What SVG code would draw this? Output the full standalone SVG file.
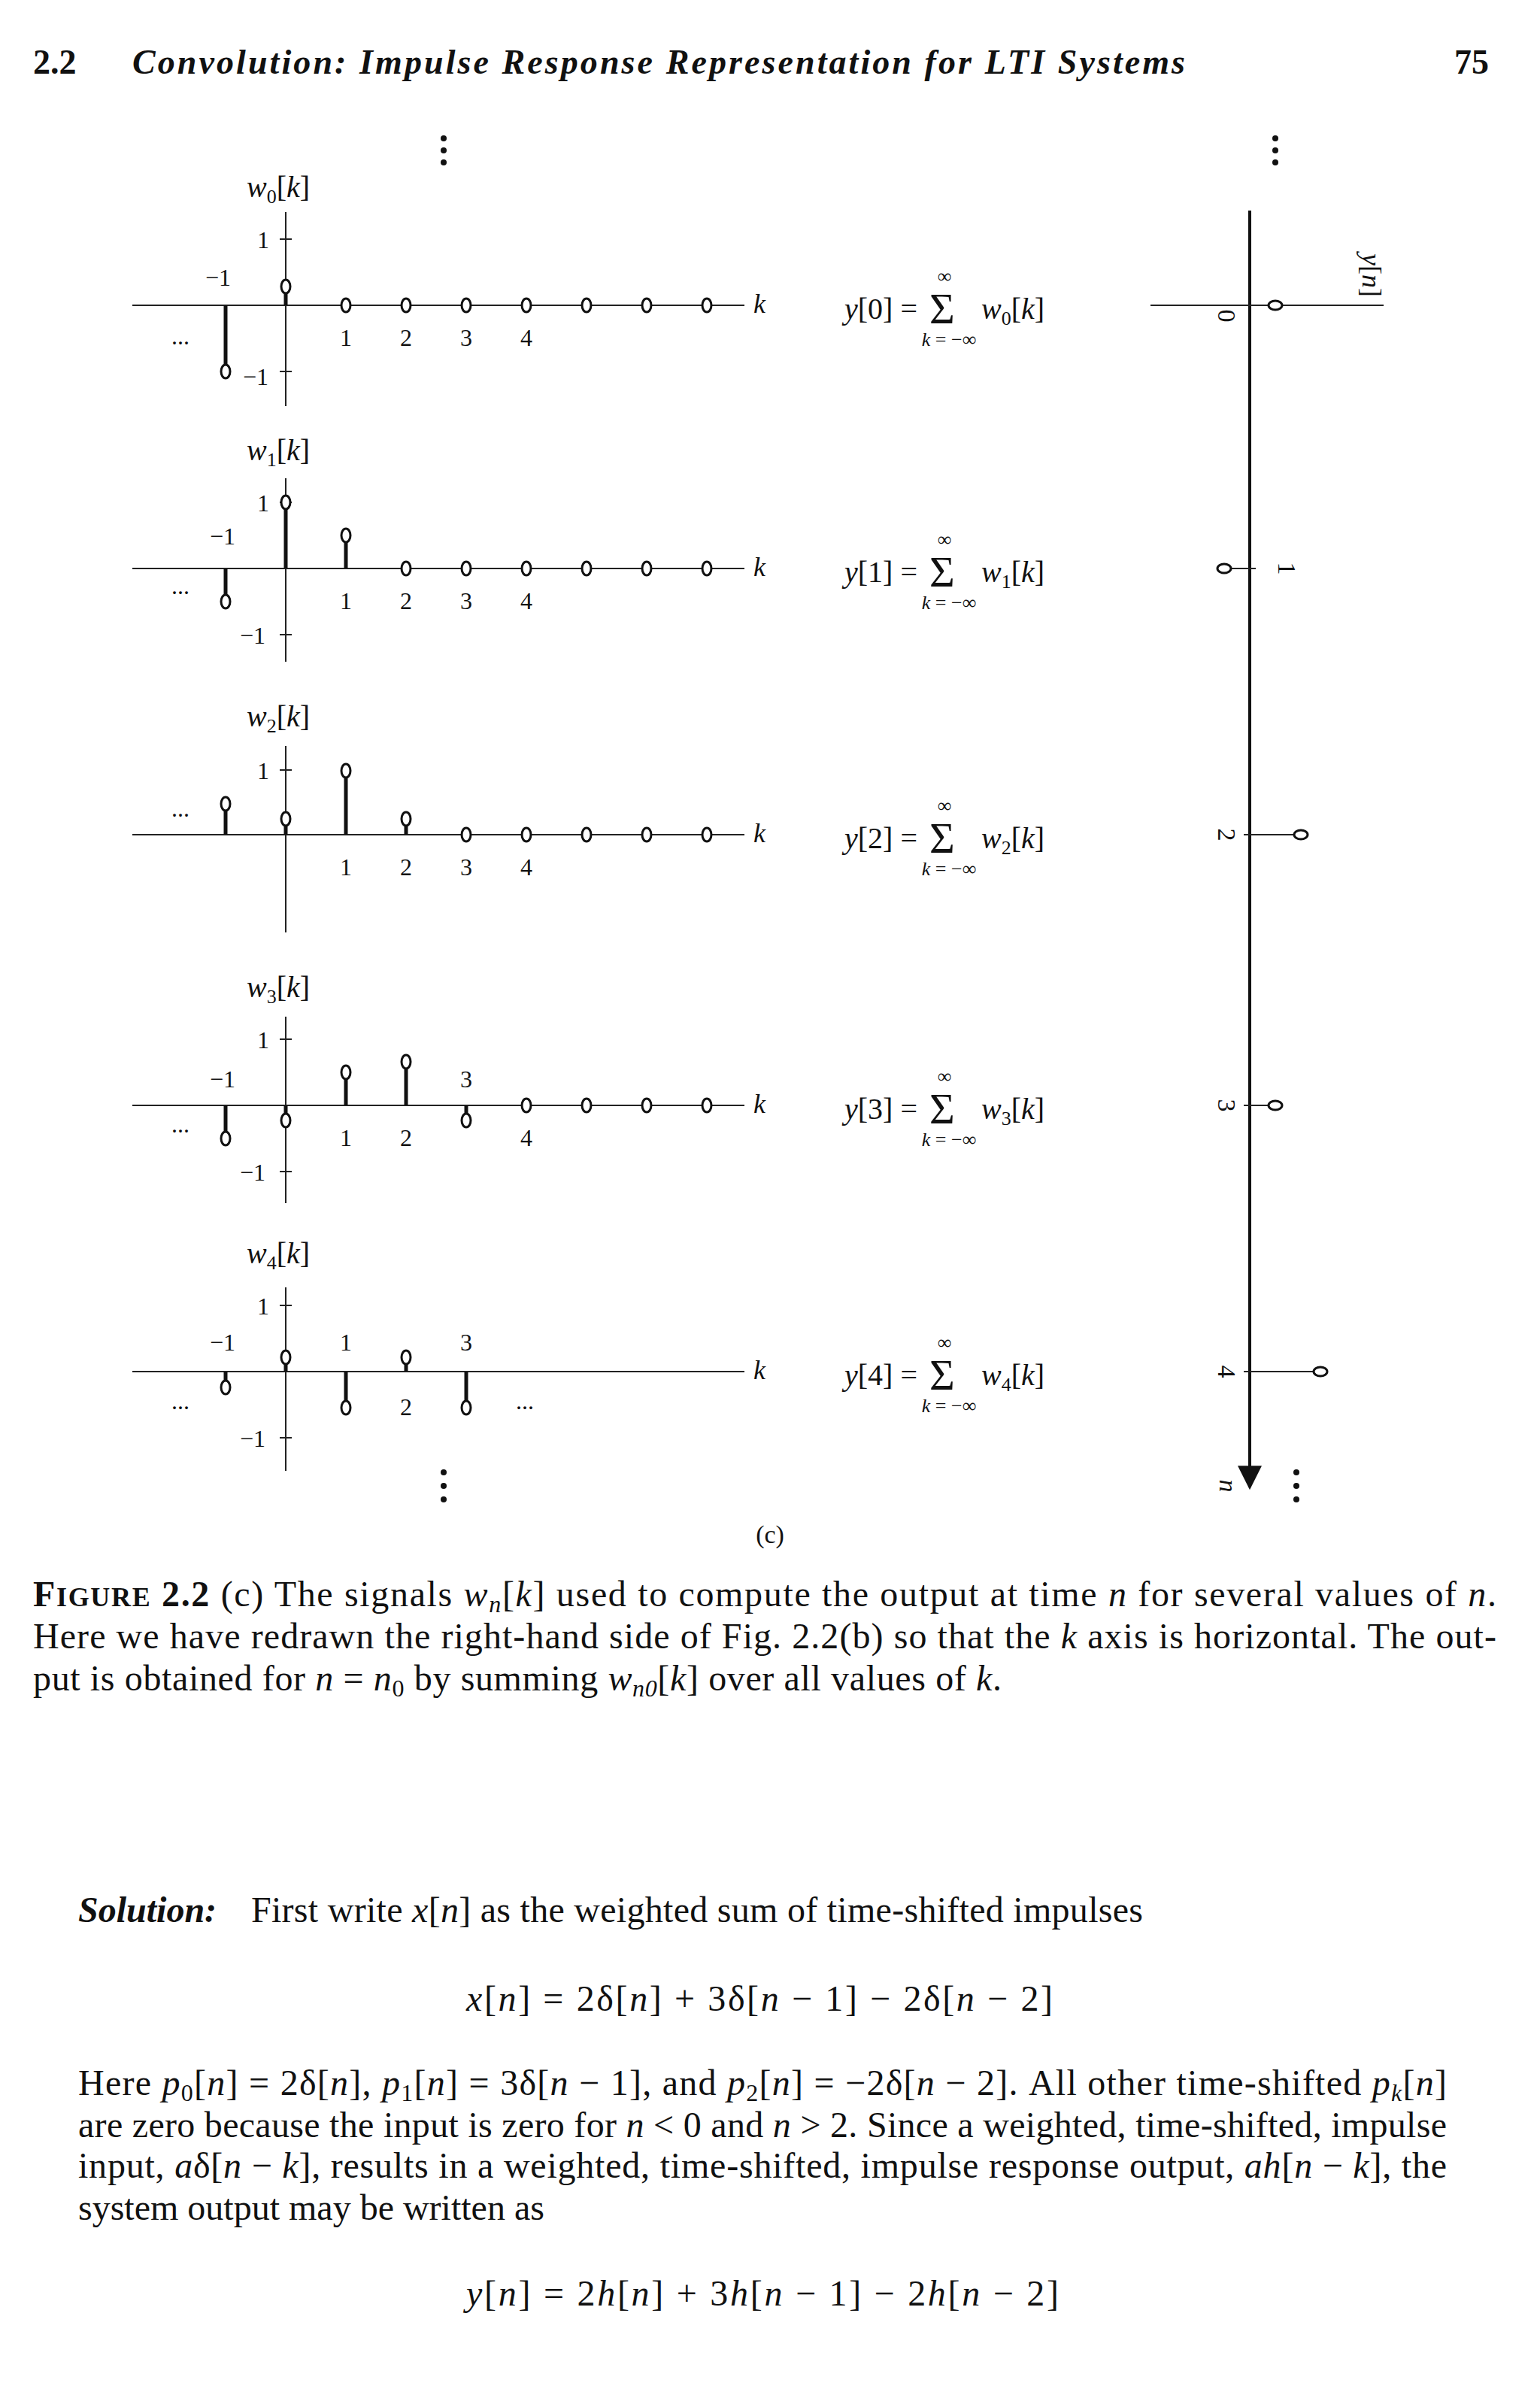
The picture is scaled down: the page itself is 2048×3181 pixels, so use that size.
<svg xmlns="http://www.w3.org/2000/svg" width="2048" height="3181" viewBox="0 0 2048 3181">
<defs>
<style>
text{font-family:"Liberation Serif","Times New Roman",serif;fill:#111}
.ax{stroke:#222;stroke-width:2;fill:none}
.st{stroke:#111;stroke-width:5;fill:none}
.c{fill:#fff;stroke:#111;stroke-width:3}
.tk{font-size:32px;text-anchor:middle}
.wl{font-size:40px}
.eq{font-size:40px}
.sg{font-size:58px}
.sm{font-size:26px;text-anchor:middle}
.i{font-style:italic}
.body{font-size:48px}
.d{fill:#111}
</style>
<marker id="arr" viewBox="0 0 10 10" refX="9" refY="5" markerWidth="8" markerHeight="8" orient="auto"><path d="M0,0 L10,5 L0,10 z" fill="#111"/></marker>
</defs>
<rect width="2048" height="3181" fill="#fff"/>

<g id="header">
<text x="44" y="98" font-size="46" font-weight="bold">2.2</text>
<text x="176" y="98" font-size="46" font-weight="bold" font-style="italic" textLength="1400" lengthAdjust="spacing">Convolution: Impulse Response Representation for LTI Systems</text>
<text x="1980" y="98" font-size="46" font-weight="bold" text-anchor="end">75</text>
</g>

<g id="dots">
<circle class="d" cx="590" cy="184" r="4"/><circle class="d" cx="590" cy="200" r="4"/><circle class="d" cx="590" cy="216" r="4"/>
<circle class="d" cx="1696" cy="184" r="4"/><circle class="d" cx="1696" cy="200" r="4"/><circle class="d" cx="1696" cy="216" r="4"/>
<circle class="d" cx="590" cy="1958" r="4"/><circle class="d" cx="590" cy="1976" r="4"/><circle class="d" cx="590" cy="1994" r="4"/>
<circle class="d" cx="1724" cy="1958" r="4"/><circle class="d" cx="1724" cy="1976" r="4"/><circle class="d" cx="1724" cy="1994" r="4"/>
</g>

<!-- w0 -->
<g id="w0">
<line class="ax" x1="176" y1="406" x2="990" y2="406"/>
<line class="ax" x1="380" y1="282" x2="380" y2="540"/>
<line class="ax" x1="372" y1="318" x2="388" y2="318"/><line class="ax" x1="372" y1="494" x2="388" y2="494"/>
<text class="wl" x="328" y="262"><tspan class="i">w</tspan><tspan font-size="26" dy="8">0</tspan><tspan dy="-8">[</tspan><tspan class="i">k</tspan>]</text>
<text class="tk" x="350" y="330">1</text>
<text class="tk" x="290" y="380">−1</text>
<text class="tk" x="340" y="512">−1</text>
<text class="tk" x="240" y="458">...</text>
<text x="1002" y="416" font-size="36" font-style="italic">k</text>
<text class="tk" x="460" y="460">1</text><text class="tk" x="540" y="460">2</text><text class="tk" x="620" y="460">3</text><text class="tk" x="700" y="460">4</text>
<line class="st" x1="300" y1="406" x2="300" y2="494"/><ellipse class="c" cx="300" cy="494" rx="6" ry="9"/>
<line class="st" x1="380" y1="406" x2="380" y2="381"/><ellipse class="c" cx="380" cy="381" rx="6" ry="9"/>
<ellipse class="c" cx="460" cy="406" rx="6" ry="9"/><ellipse class="c" cx="540" cy="406" rx="6" ry="9"/><ellipse class="c" cx="620" cy="406" rx="6" ry="9"/><ellipse class="c" cx="700" cy="406" rx="6" ry="9"/><ellipse class="c" cx="780" cy="406" rx="6" ry="9"/><ellipse class="c" cx="860" cy="406" rx="6" ry="9"/><ellipse class="c" cx="940" cy="406" rx="6" ry="9"/>
</g>

<!-- w1 -->
<g id="w1">
<line class="ax" x1="176" y1="756" x2="990" y2="756"/>
<line class="ax" x1="380" y1="636" x2="380" y2="880"/>
<line class="ax" x1="372" y1="668" x2="388" y2="668"/><line class="ax" x1="372" y1="844" x2="388" y2="844"/>
<text class="wl" x="328" y="612"><tspan class="i">w</tspan><tspan font-size="26" dy="8">1</tspan><tspan dy="-8">[</tspan><tspan class="i">k</tspan>]</text>
<text class="tk" x="350" y="680">1</text>
<text class="tk" x="296" y="724">−1</text>
<text class="tk" x="336" y="856">−1</text>
<text class="tk" x="240" y="790">...</text>
<text x="1002" y="766" font-size="36" font-style="italic">k</text>
<text class="tk" x="460" y="810">1</text><text class="tk" x="540" y="810">2</text><text class="tk" x="620" y="810">3</text><text class="tk" x="700" y="810">4</text>
<line class="st" x1="300" y1="756" x2="300" y2="800"/><ellipse class="c" cx="300" cy="800" rx="6" ry="9"/>
<line class="st" x1="380" y1="756" x2="380" y2="668"/><ellipse class="c" cx="380" cy="668" rx="6" ry="9"/>
<line class="st" x1="460" y1="756" x2="460" y2="712"/><ellipse class="c" cx="460" cy="712" rx="6" ry="9"/>
<ellipse class="c" cx="540" cy="756" rx="6" ry="9"/><ellipse class="c" cx="620" cy="756" rx="6" ry="9"/><ellipse class="c" cx="700" cy="756" rx="6" ry="9"/><ellipse class="c" cx="780" cy="756" rx="6" ry="9"/><ellipse class="c" cx="860" cy="756" rx="6" ry="9"/><ellipse class="c" cx="940" cy="756" rx="6" ry="9"/>
</g>

<!-- w2 -->
<g id="w2">
<line class="ax" x1="176" y1="1110" x2="990" y2="1110"/>
<line class="ax" x1="380" y1="992" x2="380" y2="1240"/>
<line class="ax" x1="372" y1="1024" x2="388" y2="1024"/>
<text class="wl" x="328" y="966"><tspan class="i">w</tspan><tspan font-size="26" dy="8">2</tspan><tspan dy="-8">[</tspan><tspan class="i">k</tspan>]</text>
<text class="tk" x="350" y="1036">1</text>
<text class="tk" x="240" y="1086">...</text>
<text x="1002" y="1120" font-size="36" font-style="italic">k</text>
<text class="tk" x="460" y="1164">1</text><text class="tk" x="540" y="1164">2</text><text class="tk" x="620" y="1164">3</text><text class="tk" x="700" y="1164">4</text>
<line class="st" x1="300" y1="1110" x2="300" y2="1069"/><ellipse class="c" cx="300" cy="1069" rx="6" ry="9"/>
<line class="st" x1="380" y1="1110" x2="380" y2="1089"/><ellipse class="c" cx="380" cy="1089" rx="6" ry="9"/>
<line class="st" x1="460" y1="1110" x2="460" y2="1025"/><ellipse class="c" cx="460" cy="1025" rx="6" ry="9"/>
<line class="st" x1="540" y1="1110" x2="540" y2="1089"/><ellipse class="c" cx="540" cy="1089" rx="6" ry="9"/>
<ellipse class="c" cx="620" cy="1110" rx="6" ry="9"/><ellipse class="c" cx="700" cy="1110" rx="6" ry="9"/><ellipse class="c" cx="780" cy="1110" rx="6" ry="9"/><ellipse class="c" cx="860" cy="1110" rx="6" ry="9"/><ellipse class="c" cx="940" cy="1110" rx="6" ry="9"/>
</g>

<!-- w3 -->
<g id="w3">
<line class="ax" x1="176" y1="1470" x2="990" y2="1470"/>
<line class="ax" x1="380" y1="1352" x2="380" y2="1600"/>
<line class="ax" x1="372" y1="1382" x2="388" y2="1382"/><line class="ax" x1="372" y1="1558" x2="388" y2="1558"/>
<text class="wl" x="328" y="1326"><tspan class="i">w</tspan><tspan font-size="26" dy="8">3</tspan><tspan dy="-8">[</tspan><tspan class="i">k</tspan>]</text>
<text class="tk" x="350" y="1394">1</text>
<text class="tk" x="296" y="1446">−1</text>
<text class="tk" x="620" y="1446">3</text>
<text class="tk" x="336" y="1570">−1</text>
<text class="tk" x="240" y="1506">...</text>
<text x="1002" y="1480" font-size="36" font-style="italic">k</text>
<text class="tk" x="460" y="1524">1</text><text class="tk" x="540" y="1524">2</text><text class="tk" x="700" y="1524">4</text>
<line class="st" x1="300" y1="1470" x2="300" y2="1514"/><ellipse class="c" cx="300" cy="1514" rx="6" ry="9"/>
<line class="st" x1="380" y1="1470" x2="380" y2="1490"/><ellipse class="c" cx="380" cy="1490" rx="6" ry="9"/>
<line class="st" x1="460" y1="1470" x2="460" y2="1426"/><ellipse class="c" cx="460" cy="1426" rx="6" ry="9"/>
<line class="st" x1="540" y1="1470" x2="540" y2="1412"/><ellipse class="c" cx="540" cy="1412" rx="6" ry="9"/>
<line class="st" x1="620" y1="1470" x2="620" y2="1490"/><ellipse class="c" cx="620" cy="1490" rx="6" ry="9"/>
<ellipse class="c" cx="700" cy="1470" rx="6" ry="9"/><ellipse class="c" cx="780" cy="1470" rx="6" ry="9"/><ellipse class="c" cx="860" cy="1470" rx="6" ry="9"/><ellipse class="c" cx="940" cy="1470" rx="6" ry="9"/>
</g>

<!-- w4 -->
<g id="w4">
<line class="ax" x1="176" y1="1824" x2="990" y2="1824"/>
<line class="ax" x1="380" y1="1712" x2="380" y2="1956"/>
<line class="ax" x1="372" y1="1736" x2="388" y2="1736"/><line class="ax" x1="372" y1="1912" x2="388" y2="1912"/>
<text class="wl" x="328" y="1680"><tspan class="i">w</tspan><tspan font-size="26" dy="8">4</tspan><tspan dy="-8">[</tspan><tspan class="i">k</tspan>]</text>
<text class="tk" x="350" y="1748">1</text>
<text class="tk" x="296" y="1796">−1</text>
<text class="tk" x="460" y="1796">1</text>
<text class="tk" x="620" y="1796">3</text>
<text class="tk" x="540" y="1882">2</text>
<text class="tk" x="336" y="1924">−1</text>
<text class="tk" x="240" y="1874">...</text>
<text class="tk" x="698" y="1874">...</text>
<text x="1002" y="1834" font-size="36" font-style="italic">k</text>
<line class="st" x1="300" y1="1824" x2="300" y2="1845"/><ellipse class="c" cx="300" cy="1845" rx="6" ry="9"/>
<line class="st" x1="380" y1="1824" x2="380" y2="1805"/><ellipse class="c" cx="380" cy="1805" rx="6" ry="9"/>
<line class="st" x1="460" y1="1824" x2="460" y2="1872"/><ellipse class="c" cx="460" cy="1872" rx="6" ry="9"/>
<line class="st" x1="540" y1="1824" x2="540" y2="1805"/><ellipse class="c" cx="540" cy="1805" rx="6" ry="9"/>
<line class="st" x1="620" y1="1824" x2="620" y2="1872"/><ellipse class="c" cx="620" cy="1872" rx="6" ry="9"/>
</g>

<!-- equations -->
<g id="eqs">
<g id="eq0"><text class="eq" x="1123" y="424"><tspan class="i">y</tspan>[0] =</text><text class="sg" x="1236" y="430">Σ</text><text class="sm" x="1256" y="376">∞</text><text class="sm" x="1262" y="460"><tspan class="i">k</tspan> = −∞</text><text class="eq" x="1305" y="424"><tspan class="i">w</tspan><tspan font-size="26" dy="8">0</tspan><tspan dy="-8">[</tspan><tspan class="i">k</tspan>]</text></g>
<g id="eq1"><text class="eq" x="1123" y="774"><tspan class="i">y</tspan>[1] =</text><text class="sg" x="1236" y="780">Σ</text><text class="sm" x="1256" y="726">∞</text><text class="sm" x="1262" y="810"><tspan class="i">k</tspan> = −∞</text><text class="eq" x="1305" y="774"><tspan class="i">w</tspan><tspan font-size="26" dy="8">1</tspan><tspan dy="-8">[</tspan><tspan class="i">k</tspan>]</text></g>
<g id="eq2"><text class="eq" x="1123" y="1128"><tspan class="i">y</tspan>[2] =</text><text class="sg" x="1236" y="1134">Σ</text><text class="sm" x="1256" y="1080">∞</text><text class="sm" x="1262" y="1164"><tspan class="i">k</tspan> = −∞</text><text class="eq" x="1305" y="1128"><tspan class="i">w</tspan><tspan font-size="26" dy="8">2</tspan><tspan dy="-8">[</tspan><tspan class="i">k</tspan>]</text></g>
<g id="eq3"><text class="eq" x="1123" y="1488"><tspan class="i">y</tspan>[3] =</text><text class="sg" x="1236" y="1494">Σ</text><text class="sm" x="1256" y="1440">∞</text><text class="sm" x="1262" y="1524"><tspan class="i">k</tspan> = −∞</text><text class="eq" x="1305" y="1488"><tspan class="i">w</tspan><tspan font-size="26" dy="8">3</tspan><tspan dy="-8">[</tspan><tspan class="i">k</tspan>]</text></g>
<g id="eq4"><text class="eq" x="1123" y="1842"><tspan class="i">y</tspan>[4] =</text><text class="sg" x="1236" y="1848">Σ</text><text class="sm" x="1256" y="1794">∞</text><text class="sm" x="1262" y="1878"><tspan class="i">k</tspan> = −∞</text><text class="eq" x="1305" y="1842"><tspan class="i">w</tspan><tspan font-size="26" dy="8">4</tspan><tspan dy="-8">[</tspan><tspan class="i">k</tspan>]</text></g>
</g>

<!-- output y[n] -->
<g id="yn">
<line x1="1662" y1="280" x2="1662" y2="1978" stroke="#111" stroke-width="4" marker-end="url(#arr)"/>
<line class="ax" x1="1530" y1="406" x2="1840" y2="406"/>
<text x="1812" y="366" font-size="36" transform="rotate(90 1812 366)" text-anchor="middle"><tspan class="i">y</tspan>[<tspan class="i">n</tspan>]</text>
<line class="ax" x1="1662" y1="406" x2="1696" y2="406"/><ellipse class="c" cx="1696" cy="406" rx="9" ry="6"/>
<line class="ax" x1="1662" y1="756" x2="1628" y2="756"/><ellipse class="c" cx="1628" cy="756" rx="9" ry="6"/>
<line class="ax" x1="1662" y1="1110" x2="1730" y2="1110"/><ellipse class="c" cx="1730" cy="1110" rx="9" ry="6"/>
<line class="ax" x1="1662" y1="1470" x2="1696" y2="1470"/><ellipse class="c" cx="1696" cy="1470" rx="9" ry="6"/>
<line class="ax" x1="1662" y1="1824" x2="1756" y2="1824"/><ellipse class="c" cx="1756" cy="1824" rx="9" ry="6"/>
<line class="ax" x1="1654" y1="756" x2="1670" y2="756"/>
<line class="ax" x1="1654" y1="1110" x2="1670" y2="1110"/><line class="ax" x1="1654" y1="1470" x2="1670" y2="1470"/><line class="ax" x1="1654" y1="1824" x2="1670" y2="1824"/>
<g font-size="34" text-anchor="middle">
<text x="1620" y="420" transform="rotate(90 1620 420)">0</text>
<text x="1700" y="756" transform="rotate(90 1700 756)">1</text>
<text x="1620" y="1110" transform="rotate(90 1620 1110)">2</text>
<text x="1620" y="1470" transform="rotate(90 1620 1470)">3</text>
<text x="1620" y="1824" transform="rotate(90 1620 1824)">4</text>
<text x="1622" y="1976" class="i" transform="rotate(90 1622 1976)">n</text>
</g>
</g>

<g id="caption">
<text x="1024" y="2052" font-size="34" text-anchor="middle">(c)</text>
<text class="body" x="44" y="2136" textLength="1946" lengthAdjust="spacing"><tspan font-weight="bold">F</tspan><tspan font-weight="bold" font-size="36">IGURE</tspan><tspan font-weight="bold"> 2.2</tspan>   (c) The signals <tspan class="i">w</tspan><tspan class="i" font-size="32" dy="8">n</tspan><tspan dy="-8">[</tspan><tspan class="i">k</tspan>] used to compute the output at time <tspan class="i">n</tspan> for several values of <tspan class="i">n</tspan>.</text>
<text class="body" x="44" y="2192" textLength="1946" lengthAdjust="spacing">Here we have redrawn the right-hand side of Fig. 2.2(b) so that the <tspan class="i">k</tspan> axis is horizontal. The out-</text>
<text class="body" x="44" y="2248" textLength="1288" lengthAdjust="spacing">put is obtained for <tspan class="i">n</tspan> = <tspan class="i">n</tspan><tspan font-size="32" dy="8">0</tspan><tspan dy="-8"> by summing </tspan><tspan class="i">w</tspan><tspan class="i" font-size="32" dy="8">n0</tspan><tspan dy="-8">[</tspan><tspan class="i">k</tspan>] over all values of <tspan class="i">k</tspan>.</text>
</g>

<g id="solution">
<text class="body" x="104" y="2556"><tspan font-weight="bold" font-style="italic">Solution:</tspan></text>
<text class="body" x="334" y="2556" textLength="1186" lengthAdjust="spacing">First write <tspan class="i">x</tspan>[<tspan class="i">n</tspan>] as the weighted sum of time-shifted impulses</text>
<text class="body" x="620" y="2674" textLength="780" lengthAdjust="spacing"><tspan class="i">x</tspan>[<tspan class="i">n</tspan>]  =  2δ[<tspan class="i">n</tspan>]  +  3δ[<tspan class="i">n</tspan>  −  1]  −  2δ[<tspan class="i">n</tspan>  −  2]</text>
<text class="body" x="104" y="2786" textLength="1820" lengthAdjust="spacing">Here <tspan class="i">p</tspan><tspan font-size="32" dy="8">0</tspan><tspan dy="-8">[</tspan><tspan class="i">n</tspan>]  =  2δ[<tspan class="i">n</tspan>], <tspan class="i">p</tspan><tspan font-size="32" dy="8">1</tspan><tspan dy="-8">[</tspan><tspan class="i">n</tspan>]  =  3δ[<tspan class="i">n</tspan>  −  1], and <tspan class="i">p</tspan><tspan font-size="32" dy="8">2</tspan><tspan dy="-8">[</tspan><tspan class="i">n</tspan>]  =  −2δ[<tspan class="i">n</tspan>  −  2]. All other time-shifted <tspan class="i">p</tspan><tspan class="i" font-size="32" dy="8">k</tspan><tspan dy="-8">[</tspan><tspan class="i">n</tspan>]</text>
<text class="body" x="104" y="2842" textLength="1820" lengthAdjust="spacing">are zero because the input is zero for <tspan class="i">n</tspan> &lt; 0 and <tspan class="i">n</tspan> &gt; 2. Since a weighted, time-shifted, impulse</text>
<text class="body" x="104" y="2896" textLength="1820" lengthAdjust="spacing">input, <tspan class="i">a</tspan>δ[<tspan class="i">n</tspan>  −  <tspan class="i">k</tspan>], results in a weighted, time-shifted, impulse response output, <tspan class="i">ah</tspan>[<tspan class="i">n</tspan>  −  <tspan class="i">k</tspan>], the</text>
<text class="body" x="104" y="2952">system output may be written as</text>
<text class="body" x="620" y="3066" textLength="788" lengthAdjust="spacing"><tspan class="i">y</tspan>[<tspan class="i">n</tspan>]  =  2<tspan class="i">h</tspan>[<tspan class="i">n</tspan>]  +  3<tspan class="i">h</tspan>[<tspan class="i">n</tspan>  −  1]  −  2<tspan class="i">h</tspan>[<tspan class="i">n</tspan>  −  2]</text>
</g>
</svg>
